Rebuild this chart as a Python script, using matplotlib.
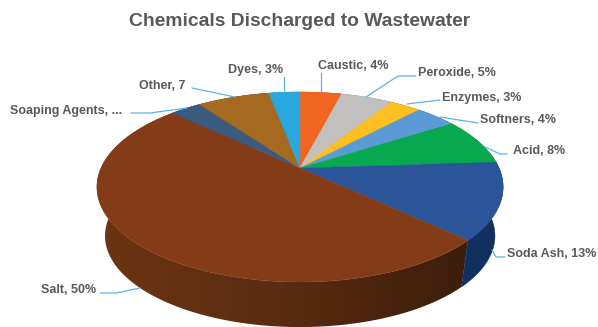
import numpy as np
import matplotlib
matplotlib.use("Agg")
import matplotlib.pyplot as plt
from matplotlib.colors import LinearSegmentedColormap
from matplotlib.patches import Polygon

plt.rcParams['font.family'] = ['Liberation Sans', 'DejaVu Sans']

# slices clockwise from 12 o'clock
categories = ['Caustic', 'Peroxide', 'Enzymes', 'Softners', 'Acid', 'Soda Ash',
              'Salt', 'Soaping Agents', 'Other', 'Dyes']
shares = [4, 5, 3, 4, 8, 13, 50, 3, 7, 3]
label_texts = ['Caustic, 4%', 'Peroxide, 5%', 'Enzymes, 3%', 'Softners, 4%', 'Acid, 8%',
               'Soda Ash, 13%', 'Salt, 50%', 'Soaping Agents, ...', 'Other, 7', 'Dyes, 3%']
top_colors = ['#f0651f', '#c2c0bf', '#fdbf22', '#5b9bd5', '#08a84e', '#2a5599',
              '#843c18', '#3b5a80', '#a5691f', '#29a8e0']
wall_colors = ['#9a3f12', '#7a7a7a', '#a07812', '#355f88', '#056a30', '#12305f',
               '#55280f', '#20344c', '#6a4312', '#186a90']

# label anchors and leader lines, in pixels
label_xy = [(318, 66), (418, 73), (442, 98), (480, 120), (513, 151),
            (507, 254), (41, 290), (10, 111), (139, 86), (228, 70)]
leaders = [
    [(321, 73), (321, 92)],
    [(416, 76), (398, 76), (366, 97)],
    [(440, 100), (407, 104)],
    [(478, 123), (440, 117)],
    [(507, 154), (500, 154), (485, 147)],
    [(505, 257), (496, 257), (492, 250)],
    [(100, 293), (116, 293), (140, 288)],
    [(131, 113), (150, 113), (187, 108)],
    [(192, 88), (235, 97)],
    [(284, 77), (284, 92)],
]

CX, CY = 300, 168
A, B, P = 199, 91.2, 0.2
DEPTH_Y, SHRINK = 49.6, 0.96


def project(theta, lower=False):
    # perspective view of the pie disc, theta clockwise from the top
    u, v = np.sin(theta), np.cos(theta)
    w = 1 + P * v
    x, y = A * u / w, -B * v / w
    if lower:
        return CX + SHRINK * x, CY + DEPTH_Y + SHRINK * y
    return CX + x, CY + y


fig = plt.figure(figsize=(5.98, 3.27), dpi=100)
ax = fig.add_axes([0, 0, 1, 1])
ax.axis('off')

edges = 2 * np.pi * np.cumsum([0] + shares) / sum(shares)

# side wall
for i in range(len(shares)):
    th = np.linspace(edges[i], edges[i + 1], max(3, shares[i] * 4))
    xt, yt = project(th)
    xb, yb = project(th, True)
    pts = list(zip(xt, yt)) + list(zip(xb[::-1], yb[::-1]))
    if categories[i] == 'Salt':
        # the salt wall gets darker towards the right
        wall = Polygon(pts, fc='none', ec='none')
        ax.add_patch(wall)
        cmap = LinearSegmentedColormap.from_list('wall', ['#6e3513', '#5a2b10', '#3a1d0b'])
        img = ax.imshow(np.linspace(0, 1, 256).reshape(1, -1), cmap=cmap, aspect='auto',
                        extent=(90, 480, 340, 100), interpolation='bilinear')
        img.set_clip_path(wall)
    else:
        ax.add_patch(Polygon(pts, fc=wall_colors[i], ec=wall_colors[i], lw=0.3))

# top face
for i in range(len(shares)):
    th = np.linspace(edges[i], edges[i + 1], max(3, shares[i] * 4))
    xs, ys = project(th)
    pts = [(CX, CY)] + list(zip(xs, ys))
    ax.add_patch(Polygon(pts, fc=top_colors[i], ec=top_colors[i], lw=0.3))

for pts in leaders:
    xs, ys = zip(*pts)
    ax.plot(xs, ys, color='#5ab4e6', lw=0.9, solid_capstyle='round')

for text, (x, y) in zip(label_texts, label_xy):
    ax.text(x, y, text, fontsize=9, fontweight='bold', color='#595959', ha='left', va='center')

ax.text(300, 22, 'Chemicals Discharged to Wastewater', fontsize=13.9, fontweight='bold',
        color='#595959', ha='center', va='center')

ax.set_xlim(0, 598)
ax.set_ylim(327, 0)

fig.savefig('out.png', dpi=100)
